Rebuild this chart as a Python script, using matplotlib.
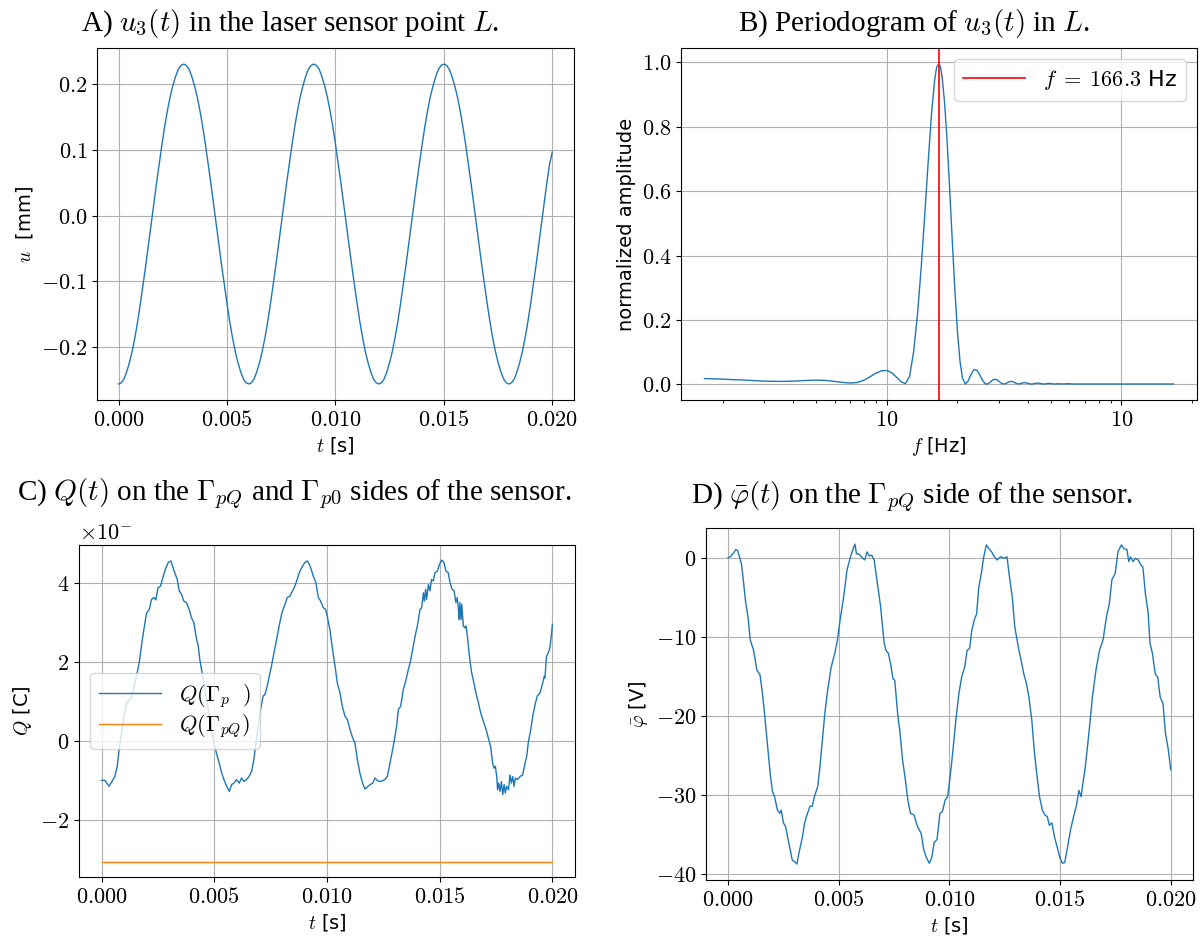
import matplotlib
matplotlib.use("Agg")
import matplotlib.pyplot as plt
import numpy as np
from matplotlib.ticker import FuncFormatter, NullFormatter, FixedLocator, MultipleLocator

# ---------------- data ----------------
# A) u3(t) [mm], sampled every 0.125 ms over 0..20 ms
u_period = [-0.257, -0.255, -0.249, -0.238, -0.224, -0.207, -0.186, -0.162, -0.135, -0.106,
            -0.076, -0.045, -0.013, 0.019, 0.050, 0.080, 0.109, 0.136, 0.160, 0.181, 0.198,
            0.212, 0.223, 0.229, 0.231, 0.229, 0.223, 0.212, 0.198, 0.181, 0.160, 0.136,
            0.109, 0.080, 0.050, 0.019, -0.013, -0.045, -0.076, -0.106, -0.135, -0.162,
            -0.186, -0.207, -0.224, -0.238, -0.249, -0.255]
u_tail = [-0.257, -0.255, -0.249, -0.238, -0.224, -0.207, -0.186, -0.162, -0.135, -0.106,
          -0.076, -0.045, -0.013, 0.019, 0.050, 0.078, 0.097]
u_vals = u_period * 3 + u_tail
t_u = np.linspace(0.0, 0.020, len(u_vals))

# B) periodogram
f_vals = [16.7, 20, 25, 30, 35, 40, 45, 50, 55, 60, 65, 70, 75, 80, 85, 90, 95, 100, 105,
          110, 115, 120, 125, 130, 135, 140, 145, 150, 155, 160, 163, 166.3, 169, 172, 176,
          180, 185, 190, 195, 200, 205, 210, 216, 222, 228, 235, 242, 249, 256, 263, 268,
          274, 281, 288, 295, 302, 310, 316, 324, 332, 341, 350, 358, 366, 374, 382, 391,
          400, 410, 418, 428, 441, 455, 468, 480, 491, 505, 520, 540, 560, 590, 620, 660,
          720, 800, 950, 1150, 1400, 1666.7]
amp_vals = [0.018, 0.016, 0.013, 0.010, 0.009, 0.010, 0.012, 0.013, 0.012, 0.009, 0.006,
            0.004, 0.006, 0.013, 0.024, 0.035, 0.042, 0.043, 0.036, 0.022, 0.008, 0.002,
            0.025, 0.100, 0.215, 0.360, 0.525, 0.690, 0.840, 0.948, 0.985, 0.995, 0.988,
            0.955, 0.880, 0.775, 0.615, 0.448, 0.291, 0.163, 0.072, 0.020, 0.001, 0.010,
            0.030, 0.046, 0.044, 0.029, 0.012, 0.001, 0.001, 0.005, 0.012, 0.016, 0.014,
            0.008, 0.002, 0.001, 0.004, 0.008, 0.009, 0.006, 0.002, 0.001, 0.003, 0.005,
            0.005, 0.003, 0.001, 0.001, 0.003, 0.004, 0.002, 0.001, 0.002, 0.003, 0.002,
            0.001, 0.002, 0.001, 0.002, 0.001, 0.001, 0.001, 0.001, 0.001, 0.001, 0.001,
            0.001]
f_peak = 166.3

# C) charge Q(t) (units of the x10^- offset)
t_Q_ms = [0.00, 0.15, 0.33, 0.44, 0.59, 0.70, 0.78, 0.89, 1.00, 1.11, 1.23, 1.33, 1.43, 1.55,
          1.67, 1.78, 1.88, 2.00, 2.12, 2.22, 2.32, 2.41, 2.51, 2.62, 2.74, 2.86, 2.96, 3.08,
          3.15, 3.25, 3.36, 3.45, 3.55, 3.65, 3.77, 3.89, 3.99, 4.10, 4.19, 4.29, 4.36, 4.44,
          4.54, 4.66, 4.78, 4.88, 4.99, 5.10, 5.22, 5.33, 5.43, 5.55, 5.67, 5.77, 5.87, 5.99,
          6.11, 6.21, 6.32, 6.43, 6.55, 6.66, 6.76, 6.85, 6.95, 7.06, 7.17, 7.25, 7.35, 7.44,
          7.54, 7.65, 7.77, 7.88, 8.00, 8.14, 8.24, 8.36, 8.48, 8.58, 8.68, 8.80, 8.92, 9.02,
          9.13, 9.22, 9.30, 9.39, 9.51, 9.62, 9.72, 9.84, 9.94, 10.01, 10.13, 10.25, 10.36,
          10.46, 10.58, 10.68, 10.80, 10.91, 11.02, 11.14, 11.24, 11.35, 11.46, 11.58, 11.69,
          11.79, 11.91, 12.03, 12.13, 12.23, 12.35, 12.47, 12.57, 12.68, 12.80, 12.87, 12.97,
          13.09, 13.17, 13.27, 13.39, 13.51, 13.61, 13.71, 13.80, 13.91, 14.01, 14.13, 14.20,
          14.28, 14.32, 14.38, 14.42, 14.50, 14.57, 14.64, 14.72, 14.79, 14.90, 14.99, 15.09,
          15.19, 15.28, 15.38, 15.46, 15.55, 15.64, 15.72, 15.78, 15.84, 15.87, 15.90, 15.95,
          15.98, 16.05, 16.12, 16.17, 16.23, 16.32, 16.42, 16.52, 16.61, 16.72, 16.82, 16.94,
          17.06, 17.16, 17.26, 17.35, 17.41, 17.47, 17.53, 17.57, 17.62, 17.68, 17.74, 17.80,
          17.86, 17.91, 17.97, 18.05, 18.12, 18.18, 18.24, 18.30, 18.36, 18.45, 18.57, 18.68,
          18.79, 18.86, 18.93, 19.04, 19.13, 19.23, 19.33, 19.45, 19.57, 19.64, 19.67, 19.74,
          19.82, 19.89, 19.97, 20.00]
Q_p0 = [-1.0, -1.0, -1.15, -1.05, -0.9, -0.64, -0.22, 0.2, 0.63, 0.97, 1.03, 1.09, 1.35, 1.64,
        1.98, 2.45, 2.83, 3.25, 3.34, 3.59, 3.64, 3.58, 3.89, 3.93, 4.19, 4.40, 4.53, 4.57,
        4.44, 4.27, 4.10, 3.81, 3.72, 3.55, 3.51, 3.34, 3.13, 3.0, 2.66, 2.41, 2.07, 1.81,
        1.47, 1.05, 0.63, 0.29, -0.05, -0.31, -0.56, -0.81, -0.98, -1.15, -1.28, -1.11, -1.07,
        -0.98, -1.07, -0.94, -1.03, -0.98, -0.9, -0.77, -0.47, -0.05, 0.37, 0.8, 1.14, 1.18,
        1.39, 1.64, 1.9, 2.24, 2.58, 2.92, 3.25, 3.47, 3.64, 3.68, 3.81, 3.93, 4.1, 4.31, 4.44,
        4.53, 4.57, 4.48, 4.36, 4.19, 4.02, 3.64, 3.55, 3.38, 3.34, 3.17, 2.83, 2.32, 1.9,
        1.47, 1.22, 0.88, 0.63, 0.54, 0.29, 0.08, -0.05, -0.47, -0.81, -1.07, -1.22, -1.17,
        -1.11, -1.07, -0.94, -1.0, -1.03, -1.01, -0.98, -0.9, -0.56, -0.35, -0.05, 0.37, 0.8,
        0.88, 1.31, 1.56, 1.81, 2.03, 2.32, 2.66, 2.92, 3.34, 3.38, 3.76, 3.55, 3.85, 3.59,
        3.97, 3.81, 4.1, 4.06, 4.27, 4.31, 4.48, 4.59, 4.53, 4.31, 4.27, 4.02, 3.85, 3.81,
        3.51, 3.64, 3.30, 3.08, 3.51, 3.08, 3.47, 2.92, 2.87, 2.92, 2.66, 2.15, 1.73, 1.47,
        1.22, 0.97, 0.71, 0.5, 0.29, 0.08, -0.14, -0.56, -0.69, -0.64, -0.9, -1.24, -1.07,
        -1.28, -1.03, -1.36, -1.11, -1.32, -1.15, -1.24, -0.86, -1.07, -0.9, -1.15, -0.94,
        -0.98, -0.9, -0.86, -0.56, -0.39, -0.05, 0.29, 0.63, 0.92, 1.14, 1.22, 1.47, 1.64,
        1.6, 2.15, 2.24, 2.36, 2.75, 2.96]
t_QpQ_ms = [0.0, 20.0]
Q_pQ = [-3.07, -3.07]

# D) potential phi_bar(t) [V]
t_phi_ms = [0.00, 0.10, 0.25, 0.35, 0.43, 0.60, 0.67, 0.80, 0.90, 1.00, 1.15, 1.30, 1.44, 1.55,
            1.66, 1.79, 1.90, 2.00, 2.10, 2.23, 2.34, 2.40, 2.50, 2.60, 2.74, 2.90, 3.00, 3.11,
            3.20, 3.35, 3.46, 3.54, 3.70, 3.80, 3.90, 4.05, 4.15, 4.26, 4.37, 4.50, 4.66, 4.82,
            4.94, 5.06, 5.22, 5.37, 5.53, 5.65, 5.73, 5.80, 5.93, 6.09, 6.17, 6.28, 6.38, 6.49,
            6.60, 6.73, 6.89, 7.05, 7.13, 7.24, 7.34, 7.45, 7.53, 7.66, 7.77, 7.88, 8.01, 8.12,
            8.24, 8.40, 8.56, 8.72, 8.84, 8.96, 9.09, 9.20, 9.31, 9.44, 9.57, 9.68, 9.81, 9.92,
            10.05, 10.16, 10.29, 10.43, 10.56, 10.69, 10.80, 10.91, 11.01, 11.12, 11.23, 11.32,
            11.44, 11.55, 11.67, 11.79, 11.91, 12.03, 12.15, 12.31, 12.47, 12.60, 12.71, 12.84,
            12.95, 13.11, 13.24, 13.36, 13.48, 13.59, 13.72, 13.83, 13.94, 14.07, 14.20, 14.31,
            14.42, 14.51, 14.63, 14.74, 14.86, 14.99, 15.10, 15.21, 15.34, 15.47, 15.61, 15.74,
            15.85, 15.95, 16.01, 16.14, 16.30, 16.46, 16.62, 16.78, 16.94, 17.10, 17.22, 17.34,
            17.49, 17.61, 17.77, 17.89, 18.02, 18.10, 18.18, 18.29, 18.40, 18.53, 18.66, 18.74,
            18.85, 18.98, 19.06, 19.17, 19.30, 19.41, 19.52, 19.65, 19.76, 19.89, 20.00]
phi_vals = [0.0, 0.1, 0.6, 1.0, 0.9, -0.75, -2.4, -5.8, -7.5, -10.4, -11.7, -14.2, -14.8, -17.1,
            -20.1, -23.9, -27.2, -29.5, -30.2, -31.9, -32.3, -31.9, -33.5, -34.0, -36.0, -38.2,
            -38.4, -38.7, -37.3, -35.4, -33.5, -32.7, -31.4, -31.4, -30.2, -28.9, -26.4, -23.0,
            -19.7, -16.7, -13.8, -12.1, -10.4, -7.9, -5.0, -1.6, 0.1, 1.1, 1.7, 0.5, 0.4, -0.1,
            -0.3, 0.7, 0.2, 0.3, -0.3, -2.9, -6.2, -10.8, -11.7, -12.1, -13.4, -15.3, -15.5,
            -19.7, -22.2, -25.5, -28.1, -30.6, -32.3, -32.5, -34.0, -34.8, -36.9, -37.9, -38.6,
            -37.9, -36.0, -35.6, -32.3, -32.1, -30.6, -30.2, -27.2, -24.3, -20.5, -17.1, -15.0,
            -13.8, -11.7, -11.5, -9.2, -7.9, -7.1, -3.9, -2.0, 0.1, 1.6, 1.1, 0.7, 0.1, -0.3,
            0.1, -0.1, 0.1, -2.4, -5.0, -8.7, -11.3, -13.0, -14.7, -15.9, -17.6, -20.5, -24.3,
            -27.2, -30.2, -31.9, -32.5, -32.7, -33.8, -33.5, -35.2, -36.5, -37.9, -38.6, -38.5,
            -36.5, -34.4, -32.7, -31.3, -29.4, -30.2, -28.9, -26.4, -22.2, -17.6, -14.2, -11.7,
            -10.4, -7.4, -5.9, -2.8, -2.0, 0.7, 1.6, 1.1, 1.0, -0.5, 0.1, -0.5, -0.1, -0.3, -1.0,
            -1.2, -4.5, -7.1, -10.8, -12.1, -14.7, -15.1, -17.6, -18.5, -22.2, -24.3, -26.8]

# ---------------- style ----------------
plt.rcParams['mathtext.fontset'] = 'cm'
plt.rcParams['font.family'] = ['DejaVu Sans']
plt.rcParams['font.size'] = 16
plt.rcParams['grid.color'] = '#b0b0b0'
plt.rcParams['grid.linewidth'] = 0.8

BLUE = '#1f77b4'
ORANGE = '#ff7f0e'
LAB = 14
TICK = 16
TITLE_SIZE = 21
TITLE_FONT = 'Liberation Serif'


def mfmt(fmt):
    def _f(v, pos):
        if abs(v) < 1e-12:
            v = 0.0
        return '$' + format(v, fmt) + '$'
    return FuncFormatter(_f)


fig = plt.figure(figsize=(12, 9.41), dpi=100)

axA = fig.add_axes([0.0808, 0.5749, 0.3975, 0.374])
axB = fig.add_axes([0.5675, 0.5749, 0.430, 0.374])
axC = fig.add_axes([0.0658, 0.0680, 0.4133, 0.3528])
axD = fig.add_axes([0.5883, 0.0648, 0.4058, 0.374])

for ax in (axA, axB, axC, axD):
    ax.grid(True)
    ax.tick_params(labelsize=TICK)

# A
axA.plot(t_u, u_vals, color=BLUE, lw=1.0)
axA.xaxis.set_major_locator(MultipleLocator(0.005))
axA.yaxis.set_major_locator(MultipleLocator(0.1))
axA.xaxis.set_major_formatter(mfmt('.3f'))
axA.yaxis.set_major_formatter(mfmt('.1f'))
axA.set_xlabel(r'$t$ [s]', fontsize=LAB)
axA.set_ylabel(r'$u$  [mm]', fontsize=LAB)

# B
axB.plot(f_vals, amp_vals, color=BLUE, lw=1.0)
axB.axvline(f_peak, color='red', lw=1.2, label=r'$f\;=\;%.1f$ Hz' % f_peak)
axB.set_xscale('log')
axB.xaxis.set_major_locator(FixedLocator([100, 1000]))
axB.xaxis.set_major_formatter(FuncFormatter(lambda v, p: '$10$'))
axB.xaxis.set_minor_formatter(NullFormatter())
axB.yaxis.set_major_locator(MultipleLocator(0.2))
axB.yaxis.set_major_formatter(mfmt('.1f'))
axB.set_xlabel(r'$f$ [Hz]', fontsize=LAB)
axB.set_ylabel('normalized amplitude', fontsize=LAB)
axB.legend(loc='upper right', fontsize=16, handlelength=2.8)

# C
axC.plot(np.array(t_Q_ms) * 1e-3, Q_p0, color=BLUE, lw=1.0, label=r'$Q(\Gamma_{p}\ \ )$')
axC.plot(np.array(t_QpQ_ms) * 1e-3, Q_pQ, color=ORANGE, lw=1.0, label=r'$Q(\Gamma_{pQ})$')
axC.xaxis.set_major_locator(MultipleLocator(0.005))
axC.yaxis.set_major_locator(MultipleLocator(2))
axC.xaxis.set_major_formatter(mfmt('.3f'))
axC.yaxis.set_major_formatter(mfmt('g'))
axC.set_xlabel(r'$t$ [s]', fontsize=LAB)
axC.set_ylabel(r'$Q$ [C]', fontsize=LAB)
axC.legend(loc='center left', fontsize=16, handlelength=2.8, labelspacing=0.1)
axC.text(0.0, 1.005, r'$\times10^{-}$', transform=axC.transAxes, ha='left', va='bottom',
         fontsize=TICK)

# D
axD.plot(np.array(t_phi_ms) * 1e-3, phi_vals, color=BLUE, lw=1.0)
axD.xaxis.set_major_locator(MultipleLocator(0.005))
axD.yaxis.set_major_locator(MultipleLocator(10))
axD.xaxis.set_major_formatter(mfmt('.3f'))
axD.yaxis.set_major_formatter(mfmt('g'))
axD.set_xlabel(r'$t$ [s]', fontsize=LAB)
axD.set_ylabel(r'$\bar{\varphi}$ [V]', fontsize=LAB)

# titles
fig.text(290 / 1200, 1 - 24 / 941, r'A) $u_3(t)$ in the laser sensor point $L$.',
         ha='center', va='center', fontsize=TITLE_SIZE, family=TITLE_FONT)
fig.text(914 / 1200, 1 - 24 / 941, r'B) Periodogram of $u_3(t)$ in $L$.',
         ha='center', va='center', fontsize=TITLE_SIZE, family=TITLE_FONT)
fig.text(294 / 1200, 1 - 494 / 941,
         r'C) $Q(t)$ on the $\Gamma_{pQ}$ and $\Gamma_{p0}$ sides of the sensor.',
         ha='center', va='center', fontsize=TITLE_SIZE, family=TITLE_FONT)
fig.text(912 / 1200, 1 - 497 / 941,
         r'D) $\bar{\varphi}(t)$ on the $\Gamma_{pQ}$ side of the sensor.',
         ha='center', va='center', fontsize=TITLE_SIZE, family=TITLE_FONT)

fig.savefig('out.png', dpi=100)
